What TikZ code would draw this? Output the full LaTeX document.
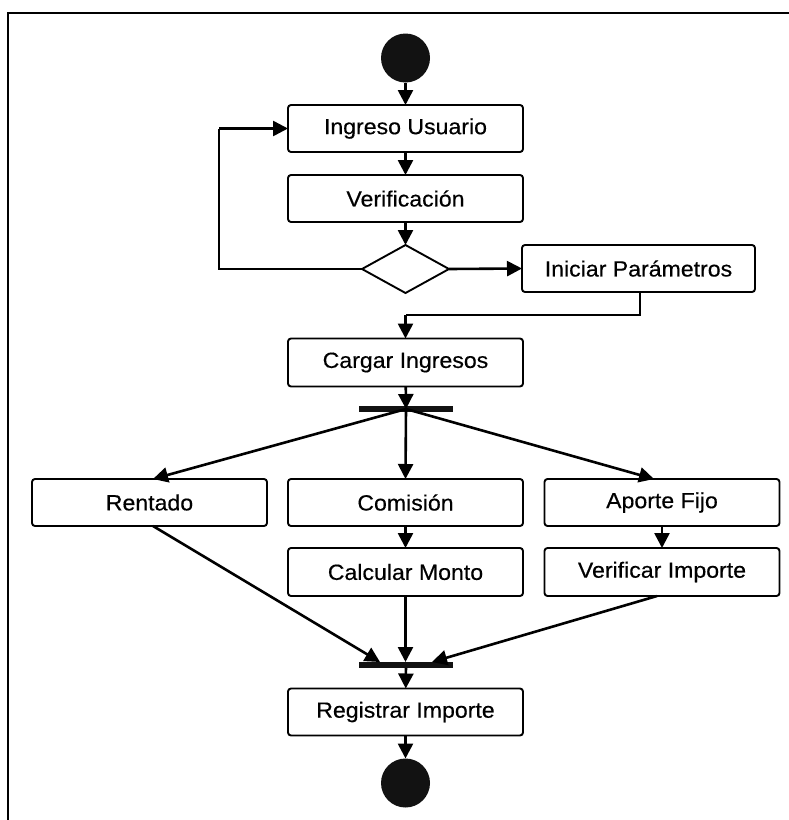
\documentclass[tikz,border=0pt]{standalone}
\usepackage{fontspec}
\setmainfont{Liberation Sans}[FakeStretch=1.05,FakeBold=0.4]
\usetikzlibrary{arrows.meta,shapes.geometric}
\begin{document}
\begin{tikzpicture}[x=1pt,y=-1pt,
  every node/.style={inner sep=0pt, outer sep=0pt},
  act/.style={draw, line width=1.9pt, rounded corners=3pt, minimum width=235pt,
    minimum height=47pt, font=\fontsize{22}{26}\selectfont},
  dot/.style={circle, fill=black!93, minimum size=49pt},
  bar/.style={fill=black!93, minimum width=94pt, minimum height=6pt},
  choice/.style={diamond, draw, line width=1.9pt, aspect=1.8, minimum width=87pt, minimum height=48pt},
  flow/.style={line width=2.6pt, -{Triangle[length=15pt,width=15pt]}},
  wire/.style={line width=2.6pt}]
\useasboundingbox (0,0) rectangle (789,820);
% outer frame
\draw[line width=2pt] (8,820) -- (8,13) -- (789,13);

% nodes
\node[dot] (start) at (405.5,58) {};
\node[act] (ingreso) at (405.5,128.5) {Ingreso Usuario};
\node[act] (verif) at (405.5,198.5) {Verificación};
\node[choice] (dec) at (405.5,269) {};
\node[act, minimum width=233pt] (iniciar) at (638.5,268.5) {Iniciar Parámetros};
\node[act, minimum height=48pt] (cargar) at (405.5,362.5) {Cargar Ingresos};
\node[bar] (fork) at (406,409) {};
\node[act] (rentado) at (149.5,502.5) {Rentado};
\node[act] (comision) at (405.5,502.5) {Comisión};
\node[act] (aporte) at (662,502.5) {Aporte Fijo};
\node[act, minimum height=48pt] (calcular) at (405.5,572) {Calcular Monto};
\node[act, minimum height=48pt] (verifimp) at (662,572) {Verificar Importe};
\node[bar] (join) at (406,665) {};
\node[act] (registrar) at (405.5,712) {Registrar Importe};
\node[dot] (end) at (405.5,783) {};

% helper points
\coordinate (loopB) at (219,269);
\coordinate (loopT) at (219,128.5);
\coordinate (iniB) at (640,315);
\coordinate (carT) at (405.5,315);

% connectors
\draw[flow] (start) -- (ingreso);
\draw[flow] (ingreso) -- (verif);
\draw[flow] (verif) -- (dec);
\draw[wire] (dec.west) -- (loopB) -- (loopT);
\draw[flow] (loopT) -- (ingreso.west);
\draw[flow] (dec.east) -- (iniciar.west);
\draw[wire] (iniciar.south -| iniB) -- (iniB) -- (carT);
\draw[flow] (carT) -- (cargar.north);
\draw[flow] (cargar) -- (fork.center);
\draw[flow] (fork.center) -- ([xshift=3.5pt]rentado.north);
\draw[flow] (fork.center) -- (comision.north);
\draw[flow] (fork.center) -- ([xshift=-8pt]aporte.north);
\draw[flow] (comision) -- (calcular);
\draw[flow] (aporte) -- (verifimp);
\draw[flow] ([xshift=3.5pt]rentado.south) -- ([xshift=-26pt]join.north);
\draw[flow] (calcular) -- (join.north -| calcular);
\draw[flow] ([xshift=-5pt]verifimp.south) -- ([xshift=26pt]join.north);
\draw[flow] (join) -- (registrar);
\draw[flow] (registrar) -- (end);
\end{tikzpicture}
\end{document}
